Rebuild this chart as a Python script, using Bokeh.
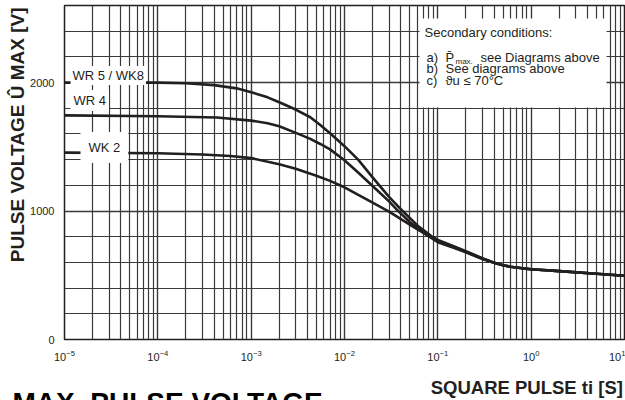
import math
from bokeh.plotting import figure
from bokeh.models import FixedTicker, Label, BoxAnnotation, Title
from bokeh.embed import file_html
from bokeh.resources import INLINE

# ---------------- data ----------------
t_wr5 = [1e-5, 1e-4, 2e-4, 4e-4, 7e-4, 1e-3, 1.5e-3, 2e-3, 3e-3, 4.3e-3, 5.5e-3, 7e-3, 1e-2,
         1.4e-2, 2e-2, 2.5e-2, 3e-2, 4.2e-2, 6e-2, 8.5e-2, 0.1, 0.15, 0.2, 0.3, 0.4, 0.5,
         0.6, 0.8, 1, 2, 5, 10]
v_wr5 = [2000, 2000, 1995, 1980, 1955, 1925, 1885, 1847, 1790, 1730, 1670, 1605, 1505,
         1400, 1262, 1178, 1110, 1000, 890, 805, 775, 725, 688, 633, 598, 578,
         566, 554, 547, 532, 512, 496]

t_wr4 = [1e-5, 1e-4, 4.3e-4, 1e-3, 1.5e-3, 2e-3, 3.4e-3, 4.3e-3, 5.5e-3, 7e-3, 1e-2, 1.4e-2,
         2e-2, 3e-2, 3.7e-2, 5e-2, 7e-2, 0.1, 0.15, 0.2, 0.3, 0.4, 0.5, 0.6, 0.8, 1, 2, 5, 10]
v_wr4 = [1745, 1738, 1728, 1704, 1684, 1660, 1593, 1562, 1522, 1480, 1395, 1300,
         1195, 1075, 1005, 915, 835, 765, 718, 682, 630, 598, 578, 566, 554, 547, 532, 512, 496]

t_wk2 = [1e-5, 1e-4, 3e-4, 6e-4, 1e-3, 2e-3, 3e-3, 5e-3, 7e-3, 1e-2, 2e-2, 3e-2, 5e-2, 7e-2,
         0.1, 0.15, 0.2, 0.3, 0.4, 0.5, 0.6, 0.8, 1, 2, 5, 10]
v_wk2 = [1455, 1450, 1440, 1428, 1412, 1365, 1330, 1275, 1235, 1185, 1065, 995, 895, 830,
         757, 712, 678, 627, 598, 578, 566, 554, 547, 532, 512, 496]

x_major = [1e-5, 1e-4, 1e-3, 1e-2, 1e-1, 1, 10]
x_minor = [k * 10.0 ** e for e in range(-5, 1) for k in range(2, 10)]
y_major = [0, 1000, 2000]
y_minor = [200, 400, 600, 800, 1200, 1400, 1600, 1800, 2200, 2400]

curve_names = ["WR 5 / WK8", "WR 4", "WK 2"]
y_title = "PULSE VOLTAGE Û MAX [V]"
x_title = "SQUARE PULSE ti [S]"
big_title = "MAX. PULSE VOLTAGE"

# ---------------- style ----------------
FONT = "Liberation Sans"
INK = "#231f20"
GRID = "#3a3a3a"


def tx(px):
    """page x pixel -> data time"""
    return 10 ** ((px - 64) / 93.333 - 5)


def vy(py):
    """page y pixel -> data voltage"""
    return (339 - py) / 0.12846


p = figure(width=625, height=400, x_axis_type="log", x_range=(1e-5, 10), y_range=(0, 2600),
           output_backend="svg", toolbar_location=None,
           min_border_left=64, min_border_right=1, min_border_top=5, min_border_bottom=61)
p.background_fill_color = "white"
p.border_fill_color = "white"
p.outline_line_color = INK
p.outline_line_width = 1.5

p.xaxis.ticker = FixedTicker(ticks=x_major, minor_ticks=x_minor)
p.yaxis.ticker = FixedTicker(ticks=y_major, minor_ticks=y_minor)
for ax in p.axis:
    ax.axis_line_color = None
    ax.major_tick_line_color = None
    ax.minor_tick_line_color = None
    ax.major_label_text_font = FONT
    ax.major_label_text_font_size = "11px"
    ax.major_label_text_color = INK
    ax.major_label_standoff = 4

for g in p.grid:
    g.grid_line_color = GRID
    g.grid_line_width = 1.4
    g.minor_grid_line_color = GRID
    g.minor_grid_line_width = 1.2

for t, v in [(t_wr5, v_wr5), (t_wr4, v_wr4), (t_wk2, v_wk2)]:
    p.line(t, v, line_width=2.6, line_color=INK, line_join="round")

# curve name labels with white backgrounds
p.add_layout(Label(x=tx(70), y=vy(75), text=curve_names[0], text_font=FONT, text_font_size="13px",
                   text_color=INK, text_baseline="middle", background_fill_color="white",
                   padding=2))
p.add_layout(Label(x=tx(70), y=vy(100), text=curve_names[1], text_font=FONT, text_font_size="13px",
                   text_color=INK, text_baseline="middle", background_fill_color="white",
                   padding=3))
p.add_layout(Label(x=tx(80), y=vy(147), text=curve_names[2], text_font=FONT, text_font_size="13px",
                   text_color=INK, text_baseline="middle", background_fill_color="white",
                   padding=8))

# secondary conditions box
p.add_layout(BoxAnnotation(left=tx(419), right=tx(606), top=vy(18), bottom=vy(107),
                           fill_color="white", fill_alpha=1.0, line_color=None))


def note(px, py, text, size="13px"):
    p.add_layout(Label(x=tx(px), y=vy(py), text=text, text_font=FONT, text_font_size=size,
                       text_color=INK, text_baseline="middle"))


note(424, 32, "Secondary conditions:")
note(426, 57, "a)")
note(445, 57, "P\u0304")
note(455, 61, "max.", "8px")
note(480, 57, "see Diagrams above")
note(426, 68, "b)")
note(445, 68, "See diagrams above")
note(426, 80, "c)")
note(445, 80, "\u03d1u \u2264 70°C")

# y axis title (left panel, aligned to the top of the frame)
p.add_layout(Title(text=y_title, align="right", offset=2, standoff=0,
                   text_font=FONT, text_font_size="19px", text_font_style="bold",
                   text_color=INK), "left")

# x axis title: label anchored at the end of the axis; the no-break spaces
# push the visible words left of the anchor so they end at the frame's right edge
xax = p.xaxis[0]
xax.axis_label = x_title + "\u00a0" * 38
xax.axis_label_align = "end"
xax.axis_label_standoff = 13
xax.axis_label_text_font = FONT
xax.axis_label_text_font_size = "18.5px"
xax.axis_label_text_font_style = "bold"
xax.axis_label_text_color = INK

# big heading, only its top shows at the bottom edge
p.add_layout(Title(text=big_title, align="left", offset=-52, standoff=-34,
                   text_font=FONT, text_font_size="28px", text_font_style="bold",
                   text_color="black"), "below")

open("out.html", "w").write(file_html(p, INLINE))
